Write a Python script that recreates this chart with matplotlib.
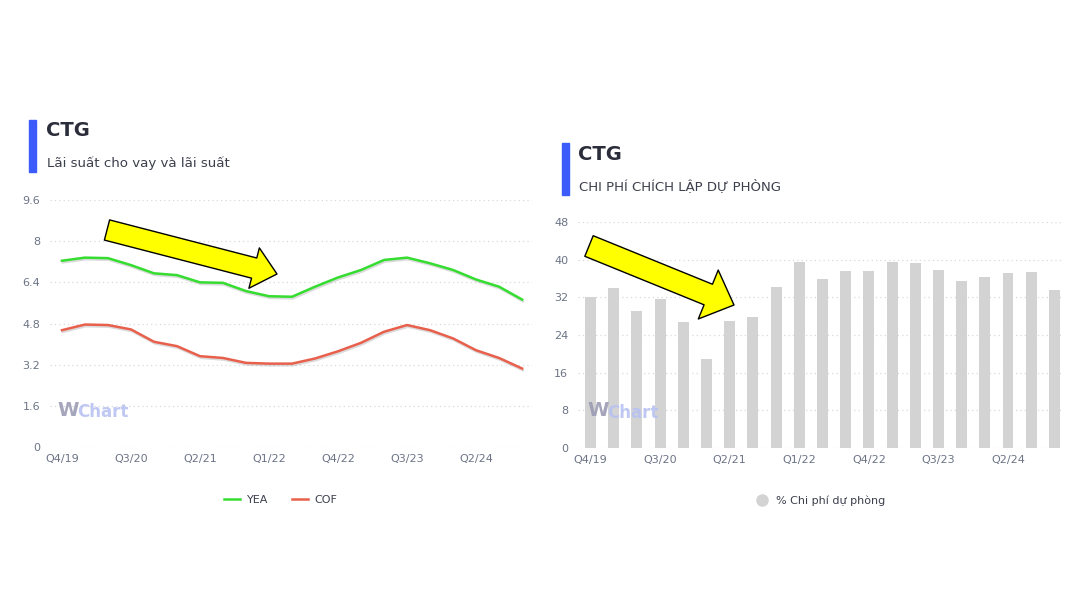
import matplotlib
matplotlib.use("Agg")
import matplotlib.pyplot as plt
from matplotlib.patches import Rectangle, FancyArrowPatch
from matplotlib.lines import Line2D
import matplotlib.patheffects as pe

plt.rcParams['font.family'] = ['DejaVu Sans']

quarters = ["Q4/19", "Q1/20", "Q2/20", "Q3/20", "Q4/20", "Q1/21", "Q2/21", "Q3/21",
            "Q4/21", "Q1/22", "Q2/22", "Q3/22", "Q4/22", "Q1/23", "Q2/23", "Q3/23",
            "Q4/23", "Q1/24", "Q2/24", "Q3/24", "Q4/24"]
yea = [7.24, 7.36, 7.34, 7.07, 6.75, 6.68, 6.40, 6.38, 6.06, 5.86, 5.84,
       6.23, 6.59, 6.88, 7.27, 7.36, 7.14, 6.88, 6.51, 6.23, 5.73]
cof = [4.54, 4.76, 4.74, 4.57, 4.09, 3.92, 3.53, 3.46, 3.27, 3.24, 3.24,
       3.44, 3.72, 4.05, 4.48, 4.74, 4.54, 4.22, 3.76, 3.46, 3.05]
provision = [32.0, 34.0, 29.2, 31.7, 26.7, 19.0, 26.9, 27.9, 34.3, 39.4, 35.8,
             37.5, 37.5, 39.4, 39.2, 37.8, 35.5, 36.3, 37.1, 37.3, 33.6]
left_yticks = [0, 1.6, 3.2, 4.8, 6.4, 8, 9.6]
left_ytick_labels = ["0", "1.6", "3.2", "4.8", "6.4", "8", "9.6"]
right_yticks = [0, 8, 16, 24, 32, 40, 48]
tick_step = 3

W, H = 1080, 608
fig = plt.figure(figsize=(W / 100, H / 100), dpi=100)
fig.patch.set_facecolor("white")

def fx(x):
    return x / W

def fy(y):
    return 1 - y / H

TICK_C = "#6b7385"
GRID_C = "#d9d9d9"
TITLE_C = "#2b2d3a"
SUB_C = "#3c3f4c"
BLUE = "#3b5bfb"
GREEN = "#35dd30"
RED = "#e8604c"

def style_axis(ax, yticks, ylabels, ymax):
    ax.set_ylim(0, ymax)
    ax.set_yticks(yticks)
    ax.set_yticklabels(ylabels)
    xt = list(range(0, len(quarters), tick_step))
    ax.set_xticks(xt)
    ax.set_xticklabels([quarters[i] for i in xt])
    for s in ax.spines.values():
        s.set_visible(False)
    ax.tick_params(axis="both", length=0, labelsize=8, colors=TICK_C)
    ax.tick_params(axis="y", pad=7)
    ax.tick_params(axis="x", pad=5)
    ax.yaxis.grid(True, linestyle=(0, (1, 2.5)), color=GRID_C, linewidth=0.9)
    ax.xaxis.grid(False)
    ax.set_axisbelow(True)
    ax.set_facecolor("white")

# ---------------- Left chart ----------------
axL = fig.add_axes([fx(50), fy(447), fx(482), (447 - 200) / H])
x = list(range(len(quarters)))
shadow = [pe.SimpleLineShadow(offset=(0.6, -1.2), shadow_color="#999999", alpha=0.35), pe.Normal()]
axL.plot(x, yea, color=GREEN, linewidth=1.8, path_effects=shadow, solid_joinstyle="round")
axL.plot(x, cof, color=RED, linewidth=1.8, path_effects=shadow, solid_joinstyle="round")
axL.set_xlim(-0.52, 20.43)
style_axis(axL, left_yticks, left_ytick_labels, 9.6)

# ---------------- Right chart ----------------
axR = fig.add_axes([fx(578), fy(448), fx(485), (448 - 222) / H])
axR.bar(x, provision, width=0.47, color="#d3d3d3")
axR.set_xlim(-0.54, 20.37)
style_axis(axR, right_yticks, [str(v) for v in right_yticks], 48)

# ---------------- Titles ----------------
fig.patches.append(Rectangle((fx(29), fy(172)), fx(7), (172 - 120) / H,
                             transform=fig.transFigure, color=BLUE))
fig.text(fx(46), fy(131), "CTG", fontsize=14, fontweight="bold", color=TITLE_C, va="center", ha="left")
fig.text(fx(47), fy(163), "Lãi suất cho vay và lãi suất", fontsize=9.6, color=SUB_C, va="center", ha="left")

fig.patches.append(Rectangle((fx(562), fy(195)), fx(7), (195 - 143) / H,
                             transform=fig.transFigure, color=BLUE))
fig.text(fx(578), fy(154), "CTG", fontsize=14, fontweight="bold", color=TITLE_C, va="center", ha="left")
fig.text(fx(579), fy(186), "CHI PHÍ CHÍCH LẬP DỰ PHÒNG", fontsize=9.5, color=SUB_C, va="center", ha="left")

# ---------------- Watermarks ----------------
for (wx, wy) in [(57, 410), (587, 411)]:
    fig.text(fx(wx), fy(wy), "W", fontsize=14, fontweight="bold", color="#9b9bb4", va="center", ha="left", alpha=0.9)
    fig.text(fx(wx + 20), fy(wy + 2), "Chart", fontsize=12, fontweight="bold", color="#b8c2f2", va="center", ha="left", alpha=0.9)

# ---------------- Legends ----------------
hL = [Line2D([], [], color=GREEN, lw=1.8), Line2D([], [], color=RED, lw=1.8)]
fig.legend(hL, ["YEA", "COF"], loc="center", bbox_to_anchor=(fx(281), fy(500)), ncol=2,
           frameon=False, fontsize=8, handlelength=1.4, columnspacing=2.2, handletextpad=0.6,
           labelcolor="#3c3f4c")
hR = [Line2D([], [], marker="o", linestyle="none", markersize=8, color="#d3d3d3")]
fig.legend(hR, ["% Chi phí dự phòng"], loc="center", bbox_to_anchor=(fx(818), fy(501)),
           frameon=False, fontsize=8, handletextpad=0.3, labelcolor="#3c3f4c")

# ---------------- Arrows ----------------
def arrow(x0, y0, x1, y1, hw, hl, tw):
    a = FancyArrowPatch((fx(x0), fy(y0)), (fx(x1), fy(y1)), transform=fig.transFigure,
                        arrowstyle=f"simple,head_width={hw},head_length={hl},tail_width={tw}",
                        mutation_scale=1, facecolor="#ffff00", edgecolor="black", linewidth=1.0,
                        shrinkA=0, shrinkB=0)
    fig.patches.append(a)

arrow(107, 230, 277, 274, 30, 17, 15)
arrow(589, 246, 734, 305, 38, 20, 16)

fig.savefig("out.png", dpi=100, facecolor="white")
